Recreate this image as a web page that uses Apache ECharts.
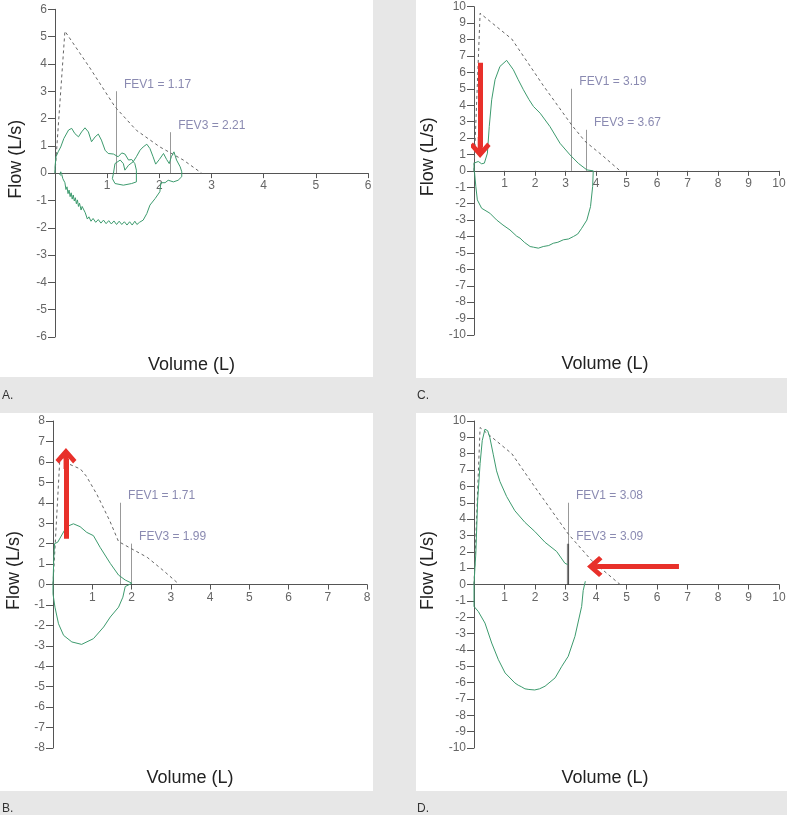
<!DOCTYPE html>
<html><head><meta charset="utf-8">
<script src="https://cdn.jsdelivr.net/npm/echarts@6/dist/echarts.min.js"></script>
<style>html,body{margin:0;padding:0;background:#e7e7e7}#c{width:787px;height:815px}</style>
</head><body><div id="c"></div><script>
// ---------- DATA ----------
const panelLabels = ['A.', 'B.', 'C.', 'D.'];
const volumeMax = [6, 8, 10, 10];
const flowMax = [6, 8, 10, 10];

// predicted (dashed) curves  [volume L, flow L/s]
const predA = [[0,0],[0.19,5.2],[0.67,3.85],[1.15,2.43],[1.56,1.57],[2.01,0.96],[2.46,0.48],[2.81,0]];
const predB = [[0,0],[0.18,6.35],[0.4,5.9],[0.7,5.65],[0.85,5.3],[1.12,4.4],[1.45,3.1],[1.67,2.1],[2.0,1.75],[2.4,1.33],[2.8,0.7],[3.22,0]];
const predC = [[0,0],[0.2,9.6],[1.24,8.03],[2.27,5.2],[3.2,2.8],[3.64,1.8],[4.2,0.95],[4.79,0]];
const predD = [[0,0],[0.2,9.6],[1.24,8.0],[2.0,5.95],[3.09,3.09],[3.86,1.46],[4.79,0]];

// measured flow-volume loops
const loopA = [[0,0],[0,0.23],[0.02,0.6],[0.06,0.78],[0.11,0.96],[0.17,1.27],[0.26,1.58],[0.32,1.64],[0.38,1.45],[0.45,1.33],[0.51,1.51],[0.575,1.66],[0.64,1.51],[0.70,1.15],[0.77,1.33],[0.83,1.43],[0.89,1.21],[0.96,0.84],[1.02,0.72],[1.12,0.70],[1.21,0.60],[1.28,0.74],[1.34,0.70],[1.41,0.48],[1.47,0.50],[1.53,0.35],[1.56,0.11],[1.56,-0.32],[1.47,-0.38],[1.31,-0.44],[1.15,-0.38],[1.10,-0.20],[1.12,-0.01],[1.15,0.35],[1.25,0.48],[1.31,0.35],[1.34,0.11],[1.41,0.29],[1.50,0.42],[1.56,0.60],[1.63,0.84],[1.69,0.96],[1.76,1.06],[1.82,0.90],[1.88,0.60],[1.93,0.33],[2.00,0.50],[2.08,0.72],[2.14,0.50],[2.19,0.35],[2.23,0.60],[2.28,0.78],[2.33,0.48],[2.40,0.23],[2.43,0.05],[2.43,-0.13],[2.36,-0.26],[2.27,-0.32],[2.17,-0.26],[2.11,-0.35],[2.03,-0.35],[2.01,-0.68],[1.92,-0.93],[1.82,-1.17],[1.76,-1.48],[1.69,-1.72],
[1.62,-1.80],[1.57,-1.88],[1.53,-1.76],[1.48,-1.90],[1.43,-1.78],[1.38,-1.90],[1.33,-1.78],[1.28,-1.88],[1.23,-1.76],[1.18,-1.88],[1.13,-1.75],[1.08,-1.86],[1.03,-1.74],[0.98,-1.85],[0.93,-1.72],[0.88,-1.83],[0.83,-1.70],[0.78,-1.80],[0.73,-1.66],[0.69,-1.76],[0.65,-1.60],[0.62,-1.68],[0.58,-1.45],
[0.55,-1.40],[0.52,-1.22],[0.50,-1.35],[0.47,-1.10],[0.45,-1.22],[0.43,-0.98],[0.41,-1.12],[0.39,-0.90],[0.37,-1.02],[0.35,-0.80],[0.33,-0.95],[0.31,-0.72],[0.29,-0.86],[0.27,-0.62],[0.25,-0.75],[0.23,-0.50],[0.21,-0.60],[0.19,-0.35],[0.17,-0.42],[0.15,-0.20],[0.13,-0.05],[0.11,0.05],[0.09,0.02],[0.09,-0.05],[0.12,-0.08]];
const loopB = [[0,0],[0.02,1.3],[0.04,2.0],[0.12,2.07],[0.29,2.64],[0.41,2.88],[0.52,2.97],[0.69,2.83],[0.86,2.55],[1.03,2.39],[1.2,1.82],[1.46,1.03],[1.67,0.46],[1.84,0.22],[2.01,0.06],[2.05,0],[1.84,-0.1],[1.78,-0.62],[1.67,-1.11],[1.46,-1.59],[1.29,-2.08],[1.03,-2.65],[0.73,-2.93],[0.48,-2.81],[0.27,-2.49],[0.14,-1.92],[0.05,-1.11],[0,-0.46],[0,0]];
const loopC = [[0,0],[0,0.47],[0.14,0.57],[0.25,0.43],[0.34,0.47],[0.44,1.08],[0.50,2.7],[0.58,4.33],[0.69,5.55],[0.85,6.36],[1.07,6.73],[1.29,6.16],[1.45,5.55],[1.62,4.94],[1.80,4.35],[1.95,3.92],[2.17,3.51],[2.49,2.70],[2.82,1.68],[3.15,0.97],[3.42,0.46],[3.70,0.06],[3.91,0.0],[3.89,-0.96],[3.82,-2.18],[3.70,-3.0],[3.53,-3.5],[3.40,-3.85],[3.26,-4.0],[3.10,-4.15],[2.93,-4.2],[2.75,-4.35],[2.6,-4.41],[2.45,-4.55],[2.27,-4.61],[2.11,-4.71],[1.95,-4.65],[1.84,-4.61],[1.65,-4.35],[1.51,-4.1],[1.40,-3.98],[1.18,-3.6],[0.95,-3.3],[0.74,-2.99],[0.52,-2.58],[0.25,-2.28],[0.11,-1.77],[0.06,-0.96],[0.02,-0.15],[0,0]];
const expD = [[0,0],[0.03,1.0],[0.06,1.91],[0.12,5.16],[0.2,7.4],[0.27,8.8],[0.36,9.5],[0.45,9.4],[0.52,8.98],[0.63,7.97],[0.74,6.95],[0.85,6.3],[1.07,5.38],[1.34,4.51],[1.67,3.8],[1.99,3.25],[2.33,2.58],[2.71,2.02],[2.98,1.3],[3.07,1.22]];
const inspD = [[3.65,0.2],[3.58,-0.37],[3.53,-1.34],[3.31,-3.17],[3.09,-4.39],[2.88,-5.0],[2.66,-5.71],[2.33,-6.22],[2.15,-6.38],[1.99,-6.45],[1.8,-6.42],[1.67,-6.38],[1.55,-6.25],[1.45,-6.16],[1.34,-6.02],[1.02,-5.41],[0.8,-4.6],[0.58,-3.58],[0.36,-2.36],[0.14,-1.65],[0,-1.34],[0,0]];

// FEV markers
const fevVolA = [1.17, 2.21], fevTopA = [3, 1.5], fevTextA = ['FEV1 = 1.17', 'FEV3 = 2.21'];
const fevVolB = [1.71, 1.99], fevTopB = [4, 2],   fevTextB = ['FEV1 = 1.71', 'FEV3 = 1.99'];
const fevVolC = [3.19, 3.67], fevTopC = [5, 2.5], fevTextC = ['FEV1 = 3.19', 'FEV3 = 3.67'];
const fevVolD = [3.08, 3.09], fevTopD = [5, 2.5], fevTextD = ['FEV1 = 3.08', 'FEV3 = 3.09'];

// red arrows [from, to] in data units
const arrowB = [[0.33, 2.24], [0.33, 6.17]];
const arrowC = [[0.2, 6.59], [0.2, 1.43]];
const arrowD = [[6.72, 1.1], [4.05, 1.1]];

// ---------- LAYOUT / STYLE ----------
const FONT = '"Liberation Sans", Arial, sans-serif';
const GREEN = '#3d9b6e';
const panels = [
  {grid:{left:55, top:9.3, width:313, height:327.7}, bg:[0,0,373,377], lab:[2,390], pred:predA, loops:[loopA], fv:fevVolA, ft:fevTopA, fx:fevTextA, fw:[1,1], arrow:null, xPad:40, yGap:30, xGap:183},
  {grid:{left:53, top:421, width:314, height:327}, bg:[0,413,373,378], lab:[2,803], pred:predB, loops:[loopB], fv:fevVolB, ft:fevTopB, fx:fevTextB, fw:[1,1], arrow:arrowB, xPad:40, yGap:30, xGap:185},
  {grid:{left:474, top:6.7, width:305, height:328.3}, bg:[416,0,371,378], lab:[417,390], pred:predC, loops:[loopC], fv:fevVolC, ft:fevTopC, fx:fevTextC, fw:[1,1], arrow:arrowC, xPad:43, yGap:37, xGap:184},
  {grid:{left:474, top:421, width:305, height:327}, bg:[416,413,371,378], lab:[417,803], pred:predD, loops:[expD, inspD], fv:fevVolD, ft:fevTopD, fx:fevTextD, fw:[1,2.2], arrow:arrowD, xPad:43, yGap:37, xGap:185}
];
// barbed arrow head pointing up (tip at top), shaft continues through the middle
const arrowHead = 'path://M11 0 L22 12 L18.5 15.5 L13.5 10 L13.5 21 L8.5 21 L8.5 10 L3.5 15.5 L0 12 Z';

const option = {animation:false, backgroundColor:'#e7e7e7', grid:[], xAxis:[], yAxis:[], series:[], title:[], graphic:[]};
panels.forEach((p, i) => {
  option.graphic.push({type:'rect', z:-10, silent:true, shape:{x:p.bg[0], y:p.bg[1], width:p.bg[2], height:p.bg[3]}, style:{fill:'#ffffff'}});
  option.title.push({text:panelLabels[i], left:p.lab[0], top:p.lab[1], padding:0, textStyle:{fontSize:12, fontWeight:'normal', color:'#333', fontFamily:FONT}});
  option.grid.push(Object.assign({outerBoundsMode:'none', containLabel:false}, p.grid));
  option.xAxis.push({type:'value', gridIndex:i, min:0, max:volumeMax[i], interval:1, splitLine:{show:false},
    position:'bottom', offset:-p.grid.height/2,
    axisLine:{onZero:false, lineStyle:{color:'#555', width:1}}, axisTick:{show:true, length:5, lineStyle:{color:'#555'}},
    axisLabel:{showMinLabel:false, color:'#666', fontSize:12, margin:7, fontFamily:FONT},
    name:'Volume (L)', nameLocation:'middle', nameGap:p.xGap,
    nameTextStyle:{fontSize:18, color:'#222', fontFamily:FONT, padding:[0,p.xPad,0,0]}});
  option.yAxis.push({type:'value', gridIndex:i, min:-flowMax[i], max:flowMax[i], interval:1, splitLine:{show:false},
    axisLine:{onZero:false, lineStyle:{color:'#555', width:1}}, axisTick:{show:true, length:7, lineStyle:{color:'#555'}},
    axisLabel:{color:'#666', fontSize:12, margin:8, fontFamily:FONT},
    name:'Flow (L/s)', nameLocation:'middle', nameGap:p.yGap,
    nameTextStyle:{fontSize:18, color:'#222', fontFamily:FONT, padding:[0,0,0,28]}});
  option.series.push({type:'line', xAxisIndex:i, yAxisIndex:i, data:p.pred, showSymbol:false, silent:true,
    lineStyle:{color:'#666', width:1, type:[3,3]}});
  p.loops.forEach(l => option.series.push({type:'line', xAxisIndex:i, yAxisIndex:i, data:l, showSymbol:false, silent:true,
    lineStyle:{color:GREEN, width:1}}));
  option.series.push({type:'lines', coordinateSystem:'cartesian2d', xAxisIndex:i, yAxisIndex:i, silent:true,
    data:p.fv.map((v, k) => ({coords:[[v, 0], [v, p.ft[k]]], lineStyle:{width:p.fw[k], color:p.fw[k] > 1 ? '#111' : '#333'}})),
    lineStyle:{color:'#333', width:1}});
  option.series.push({type:'scatter', xAxisIndex:i, yAxisIndex:i, symbolSize:0, silent:true,
    data:p.fv.map((v, k) => ({value:[v, p.ft[k]], name:p.fx[k]})),
    label:{show:true, position:'right', distance:0, offset:[8, -7], formatter:'{b}', color:'#6d6d9d', fontSize:12, fontFamily:FONT}});
  if (p.arrow) {
    option.series.push({type:'lines', coordinateSystem:'cartesian2d', xAxisIndex:i, yAxisIndex:i, silent:true, z:10,
      symbol:['none', arrowHead], symbolSize:[1, 21],
      data:[{coords:p.arrow}], lineStyle:{color:'#e8302a', width:5, opacity:1}});
  }
});
const chart = echarts.init(document.getElementById('c'), null, {renderer:'canvas'});
chart.setOption(option);
</script></body></html>
